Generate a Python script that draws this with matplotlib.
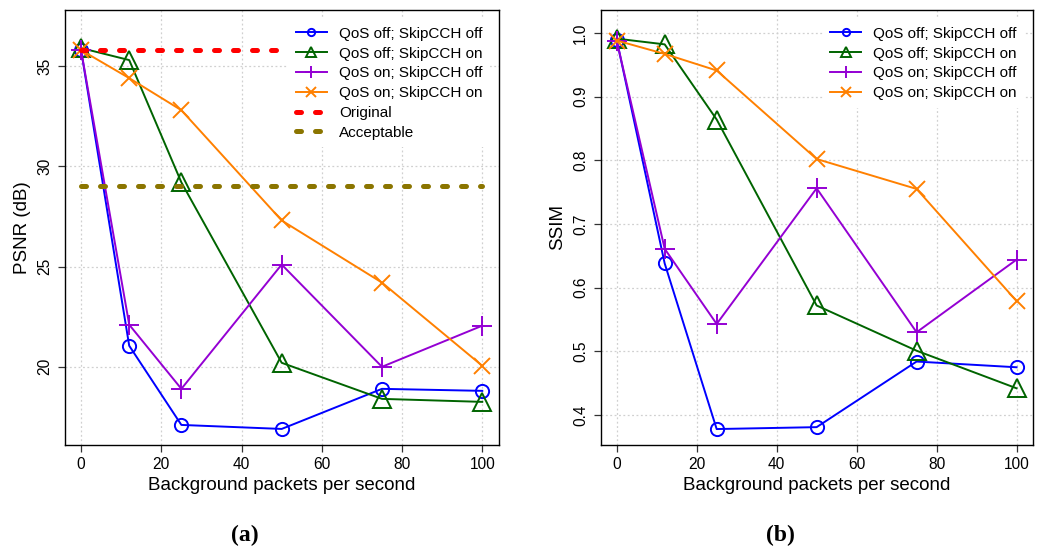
import matplotlib
matplotlib.use("Agg")
import matplotlib.pyplot as plt

plt.rcParams['font.family'] = ['Liberation Sans', 'DejaVu Sans']

# datos
pps = [0, 12, 25, 50, 75, 100]
series = ["QoS off; SkipCCH off", "QoS off; SkipCCH on",
          "QoS on; SkipCCH off", "QoS on; SkipCCH on"]

psnr_off_off = [35.8, 21.05, 17.1, 16.9, 18.9, 18.8]
psnr_off_on = [35.9, 35.3, 29.2, 20.2, 18.4, 18.25]
psnr_on_off = [35.8, 22.1, 18.9, 25.1, 20.0, 22.05]
psnr_on_on = [35.8, 34.4, 32.8, 27.3, 24.2, 20.05]
psnr_original = 35.8
psnr_acceptable = 29.0

ssim_off_off = [0.989, 0.638, 0.378, 0.381, 0.484, 0.475]
ssim_off_on = [0.991, 0.982, 0.864, 0.572, 0.501, 0.442]
ssim_on_off = [0.988, 0.661, 0.543, 0.756, 0.530, 0.644]
ssim_on_on = [0.988, 0.967, 0.941, 0.802, 0.755, 0.579]

colores = ["#0000FF", "#006400", "#9400D3", "#FF8000"]
marcadores = ["o", "^", "+", "x"]
tamanos = [9.5, 13, 15, 12]

fig = plt.figure(figsize=(10.42, 5.48), dpi=100)
axA = fig.add_axes([0.0624, 0.188, 0.4166, 0.7938])
axB = fig.add_axes([0.5765, 0.188, 0.4152, 0.7938])


def estilo(ax, ylab):
    ax.set_xlim(-4, 104.2)
    ax.set_xticks([0, 20, 40, 60, 80, 100])
    ax.grid(True, color="#d0d0d0", linestyle=(0, (1.5, 2)), linewidth=0.9)
    ax.set_axisbelow(True)
    ax.tick_params(axis="both", labelsize=11.2, length=5, width=0.9,
                   direction="out", color="#333333")
    ax.tick_params(axis="x", pad=4)
    ax.tick_params(axis="y", pad=4)
    for lab in ax.get_yticklabels():
        lab.set_rotation(90)
        lab.set_va("center")
    for s in ax.spines.values():
        s.set_linewidth(1.0)
    ax.set_xlabel("Background packets per second", fontsize=13.5, labelpad=3)
    ax.set_ylabel(ylab, fontsize=13.5, labelpad=5)


def leyenda(ax):
    ax.legend(loc="upper right", fontsize=11, frameon=True, fancybox=False,
              edgecolor="none", framealpha=1, markerscale=0.55,
              handlelength=2.0, labelspacing=0.38, borderaxespad=0.6,
              borderpad=0.5)


# (a) PSNR
for ys, lab, c, m, ms in zip([psnr_off_off, psnr_off_on, psnr_on_off, psnr_on_on],
                             series, colores, marcadores, tamanos):
    axA.plot(pps, ys, color=c, marker=m, markersize=ms, markerfacecolor="none",
             markeredgewidth=1.4, linewidth=1.4, label=lab)
axA.plot([pps[0], pps[-1]], [psnr_original] * 2, color="#FF0000", linewidth=3.6,
         linestyle=(0, (1.0, 2.8)), dash_capstyle="round", label="Original")
axA.plot([pps[0], pps[-1]], [psnr_acceptable] * 2, color="#8B7500", linewidth=3.6,
         linestyle=(0, (1.0, 2.8)), dash_capstyle="round", label="Acceptable")
axA.set_ylim(16.1, 37.8)
axA.set_yticks([20, 25, 30, 35])
estilo(axA, "PSNR (dB)")
leyenda(axA)

# (b) SSIM
for ys, lab, c, m, ms in zip([ssim_off_off, ssim_off_on, ssim_on_off, ssim_on_on],
                             series, colores, marcadores, tamanos):
    axB.plot(pps, ys, color=c, marker=m, markersize=ms, markerfacecolor="none",
             markeredgewidth=1.4, linewidth=1.4, label=lab)
axB.set_ylim(0.353, 1.036)
axB.set_yticks([0.4, 0.5, 0.6, 0.7, 0.8, 0.9, 1.0])
estilo(axB, "SSIM")
leyenda(axB)

fig.text(0.235, 0.012, "(a)", fontsize=17, fontweight="bold",
         family="Liberation Serif", ha="center")
fig.text(0.749, 0.012, "(b)", fontsize=17, fontweight="bold",
         family="Liberation Serif", ha="center")

fig.savefig("out.png", dpi=100)
